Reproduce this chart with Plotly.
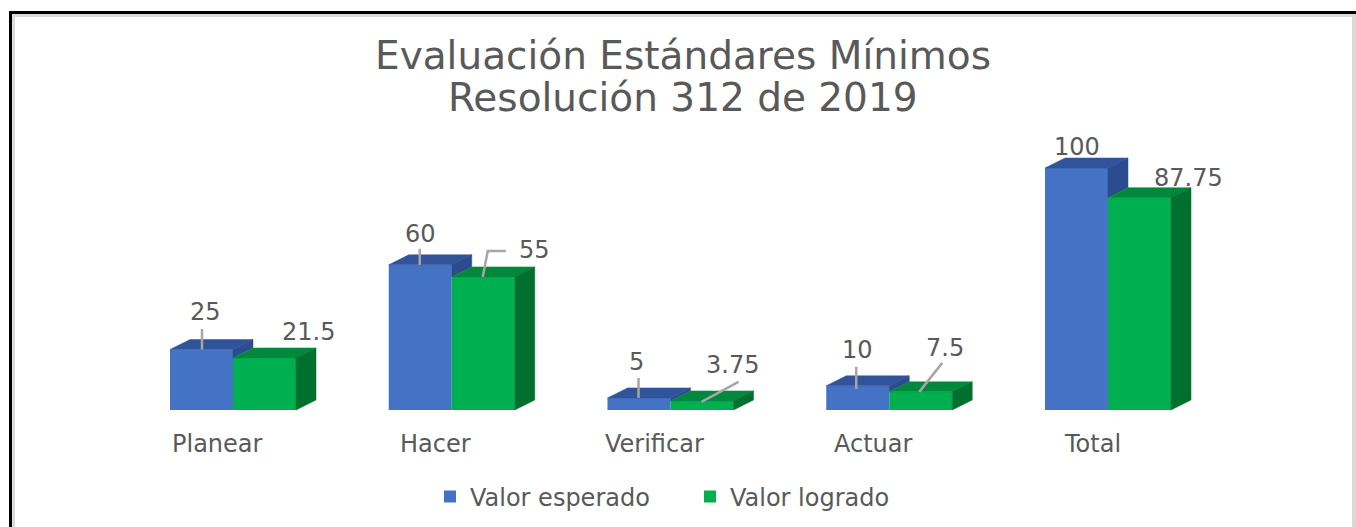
import plotly.graph_objects as go

# ---------------- data ----------------
categories = ["Planear", "Hacer", "Verificar", "Actuar", "Total"]
esperado = [25, 60, 5, 10, 100]
logrado = [21.5, 55, 3.75, 7.5, 87.75]
series_names = ["Valor esperado", "Valor logrado"]
title_lines = ["Evaluación Estándares Mínimos", "Resolución 312 de 2019"]

# ---------------- styles ----------------
W_PX, H_PX = 1356, 527
PX_X = 218.75          # pixels per category step
PX_Y = 2.42            # pixels per value unit
BASE_PX = 410          # baseline, px from top
FIRST_PX = 233         # pixel of first category centre
X0 = -FIRST_PX / PX_X
X1 = X0 + W_PX / PX_X
Y0 = -(H_PX - BASE_PX) / PX_Y
Y1 = BASE_PX / PX_Y

BW = 63 / PX_X         # bar width
DX = 20 / PX_X         # depth offset x
DY = 10 / PX_Y         # depth offset y

BLUE, BLUE_TOP, BLUE_SIDE = "#4472C4", "#30539A", "#2B4C8E"
GREEN, GREEN_TOP, GREEN_SIDE = "#00B050", "#00883D", "#00702F"
TXT = "#595959"
FONT = "DejaVu Sans"
LEADER = "#A6A6A6"

# label offsets (px) relative to top-centre of the front face
blue_lbl_off = [(3.5, 37.5), (0.5, 31), (-2.5, 36), (-0.5, 36), (0.5, 21)]
green_lbl_off = [(43.5, 26), (51.5, 27), (30.5, 36), (24.5, 44), (48.5, 20)]
blue_leaders = [[(0.5, 0), (0.5, 20.5)], [(-0.5, 0), (-0.5, 16)],
                [(-0.5, 0), (-0.5, 20)], [(-1.5, -3), (-1.5, 19)], None]
green_leaders = [None, [(-0.5, 0), (4.5, 26), (22.5, 26)],
                 [(-0.5, -1), (36.5, 19)], [(-1.5, 0), (21.5, 29)], None]

xs = list(range(len(categories)))

fig = go.Figure()
fig.add_trace(go.Bar(x=xs, y=esperado, width=BW, offset=-BW, name=series_names[0],
                     marker=dict(color=BLUE, line=dict(width=0)), hoverinfo="skip"))
fig.add_trace(go.Bar(x=xs, y=logrado, width=BW, offset=0, name=series_names[1],
                     marker=dict(color=GREEN, line=dict(width=0)), hoverinfo="skip"))


def polys(fn):
    px, py = [], []
    for c, b, g in zip(xs, esperado, logrado):
        pts = fn(c, b, g)
        for x, y in pts + [pts[0]]:
            px.append(x)
            py.append(y)
        px.append(None)
        py.append(None)
    return px, py


faces = [
    (lambda c, b, g: [(c - BW, b), (c, b), (c + DX, b + DY), (c - BW + DX, b + DY)], BLUE_TOP),
    (lambda c, b, g: [(c, g), (c, b), (c + DX, b + DY), (c + DX, g + DY)], BLUE_SIDE),
    (lambda c, b, g: [(c, g), (c + BW, g), (c + BW + DX, g + DY), (c + DX, g + DY)], GREEN_TOP),
    (lambda c, b, g: [(c + BW, 0), (c + BW, g), (c + BW + DX, g + DY), (c + BW + DX, DY)], GREEN_SIDE),
]
for fn, col in faces:
    fx, fy = polys(fn)
    fig.add_trace(go.Scatter(x=fx, y=fy, mode="lines", fill="toself", fillcolor=col,
                             line=dict(color=col, width=0.5), showlegend=False,
                             hoverinfo="skip"))

# leader lines
for vals, offs, centre_shift in [(esperado, blue_leaders, -BW / 2), (logrado, green_leaders, BW / 2)]:
    for c, v, pts in zip(xs, vals, offs):
        if not pts:
            continue
        lx = [c + centre_shift + dx / PX_X for dx, dy in pts]
        ly = [v + dy / PX_Y for dx, dy in pts]
        fig.add_trace(go.Scatter(x=lx, y=ly, mode="lines", line=dict(color=LEADER, width=2.5),
                                 showlegend=False, hoverinfo="skip"))

annotations = []
for vals, offs, centre_shift in [(esperado, blue_lbl_off, -BW / 2), (logrado, green_lbl_off, BW / 2)]:
    for c, v, (dx, dy) in zip(xs, vals, offs):
        annotations.append(dict(x=c + centre_shift, y=v, xref="x", yref="y", text=f"{v:g}",
                                showarrow=False, xshift=dx, yshift=dy,
                                xanchor="center", yanchor="middle",
                                font=dict(family=FONT, size=24, color=TXT)))
for c, name in zip(xs, categories):
    annotations.append(dict(x=c, y=0, xref="x", yref="y", text=name, showarrow=False,
                            xshift=-16, yshift=-34, xanchor="center", yanchor="middle",
                            font=dict(family=FONT, size=24, color=TXT)))
for line, ypx in zip(title_lines, [56, 97]):
    annotations.append(dict(x=683 / W_PX, y=1 - ypx / H_PX, xref="paper", yref="paper",
                            text=line, showarrow=False, xanchor="center", yanchor="middle",
                            font=dict(family=FONT, size=39, color=TXT)))


def rect(x0, y0, x1, y1, col):
    return dict(type="rect", xref="paper", yref="paper", x0=x0 / W_PX, x1=x1 / W_PX,
                y0=1 - y0 / H_PX, y1=1 - y1 / H_PX, fillcolor=col, line=dict(width=0),
                layer="above")


shapes = [
    rect(12, 14, 1352, 17, "#DCDCDC"),
    rect(12, 14, 15, 527, "#DCDCDC"),
    rect(1352, 14, 1356, 527, "#D9D9D9"),
    rect(9, 11, 1356, 14, "#000000"),
    rect(9, 11, 12, 527, "#000000"),
]

fig.update_layout(
    width=W_PX, height=H_PX, margin=dict(l=0, r=0, t=0, b=0),
    paper_bgcolor="white", plot_bgcolor="white", barmode="overlay",
    xaxis=dict(range=[X0, X1], visible=False, fixedrange=True),
    yaxis=dict(range=[Y0, Y1], visible=False, fixedrange=True),
    showlegend=True,
    legend=dict(orientation="h", x=0.5 + 12 / W_PX, xanchor="center", y=1 - 497 / H_PX,
                yanchor="middle",
                font=dict(family=FONT, size=24, color=TXT), bgcolor="rgba(0,0,0,0)",
                itemsizing="constant", entrywidth=215, entrywidthmode="pixels",
                itemwidth=30),
    annotations=annotations, shapes=shapes,
)

fig.write_html("out.html")
